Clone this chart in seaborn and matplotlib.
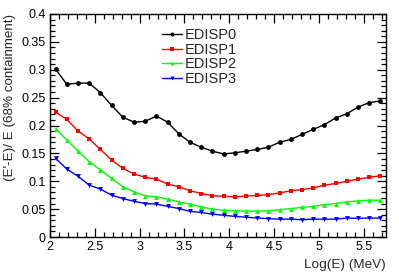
import numpy as np
import pandas as pd
import matplotlib
matplotlib.use("Agg")
import matplotlib.pyplot as plt
import seaborn as sns
from matplotlib.ticker import MultipleLocator

log_e = [2.0625 + 0.125 * k for k in range(30)]

edisp0 = [0.301, 0.274, 0.276, 0.276, 0.259, 0.236, 0.215, 0.206, 0.2075, 0.217,
          0.206, 0.185, 0.170, 0.161, 0.154, 0.149, 0.151, 0.154, 0.157, 0.161,
          0.170, 0.175, 0.184, 0.193, 0.2015, 0.2135, 0.221, 0.233, 0.241, 0.244]
edisp1 = [0.224, 0.211, 0.190, 0.176, 0.157, 0.138, 0.123, 0.113, 0.107, 0.104,
          0.095, 0.090, 0.083, 0.078, 0.074, 0.073, 0.072, 0.0735, 0.0745, 0.076,
          0.079, 0.083, 0.085, 0.088, 0.093, 0.096, 0.100, 0.104, 0.107, 0.110]
edisp2 = [0.194, 0.174, 0.154, 0.135, 0.120, 0.105, 0.090, 0.081, 0.074, 0.072,
          0.068, 0.063, 0.059, 0.054, 0.050, 0.048, 0.047, 0.0465, 0.0465, 0.047,
          0.049, 0.051, 0.053, 0.055, 0.058, 0.060, 0.063, 0.065, 0.066, 0.066]
edisp3 = [0.141, 0.122, 0.109, 0.093, 0.086, 0.075, 0.069, 0.064, 0.060, 0.059,
          0.055, 0.051, 0.046, 0.044, 0.041, 0.039, 0.037, 0.0355, 0.034, 0.033,
          0.032, 0.032, 0.031, 0.032, 0.032, 0.032, 0.034, 0.0335, 0.034, 0.034]

series_names = ["EDISP0", "EDISP1", "EDISP2", "EDISP3"]
series_vals = [edisp0, edisp1, edisp2, edisp3]
colors = ["#000000", "#ff0000", "#00ff00", "#0000ff"]
markers = ["o", "s", "^", "v"]

x_ticks = [2, 2.5, 3, 3.5, 4, 4.5, 5, 5.5]
x_ticklabels = ["2", "2.5", "3", "3.5", "4", "4.5", "5", "5.5"]
y_ticks = [0, 0.05, 0.1, 0.15, 0.2, 0.25, 0.3, 0.35, 0.4]
y_ticklabels = ["0", "0.05", "0.1", "0.15", "0.2", "0.25", "0.3", "0.35", "0.4"]

df = pd.DataFrame({
    "x": np.tile(log_e, 4),
    "y": np.concatenate(series_vals),
    "series": np.repeat(series_names, len(log_e)),
})

sns.set_style("ticks")
plt.rcParams["font.family"] = ["Liberation Sans", "DejaVu Sans"]

fig = plt.figure(figsize=(3.99, 2.73), dpi=100)
ax = fig.add_axes([50 / 399, 1 - 237 / 273, (386 - 50) / 399, (237 - 14) / 273])

sns.lineplot(data=df, x="x", y="y", hue="series", style="series",
             palette=dict(zip(series_names, colors)),
             markers=dict(zip(series_names, markers)),
             dashes=False, linewidth=1.0, markersize=3.5,
             markeredgewidth=0, ax=ax, legend=True)

ax.set_xlim(2.0, 5.75)
ax.set_ylim(0, 0.4)
ax.set_xticks(x_ticks)
ax.set_xticklabels(x_ticklabels)
ax.set_yticks(y_ticks)
ax.set_yticklabels(y_ticklabels)
ax.xaxis.set_minor_locator(MultipleLocator(0.1))
ax.yaxis.set_minor_locator(MultipleLocator(0.01))
ax.tick_params(which="both", direction="in", top=True, right=True,
               labelsize=9, width=0.9, colors="black")
ax.tick_params(which="major", length=6.5, pad=3)
ax.tick_params(which="minor", length=3.5)
for s in ax.spines.values():
    s.set_visible(True)
    s.set_linewidth(1.0)
    s.set_color("black")

ax.set_xlabel("Log(E) (MeV)", fontsize=9.7, loc="right", labelpad=4)
ax.set_ylabel("(E'-E)/ E (68% containment)", fontsize=9.6, loc="top", labelpad=4)

leg = ax.legend(loc="upper left", bbox_to_anchor=((162 - 50) / 336, (237 - 28) / 223),
                frameon=False, fontsize=10.5, handlelength=1.4, handletextpad=0.15,
                labelspacing=0.05, borderaxespad=0, borderpad=0, markerscale=0.8)

fig.savefig("out.png", dpi=100)
